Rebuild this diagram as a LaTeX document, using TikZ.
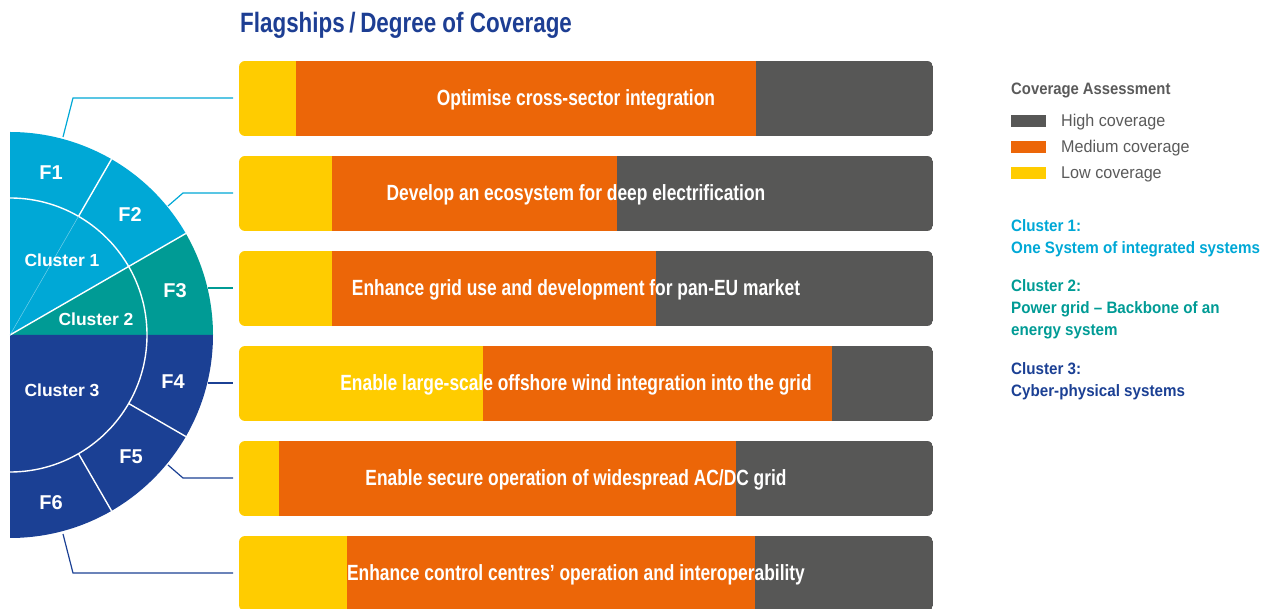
\documentclass[tikz,border=0pt]{standalone}
\usepackage{fontspec}
\setmainfont{Liberation Sans}
\newfontfamily\barfont[FakeStretch=0.79]{Liberation Sans}
\newfontfamily\titfont[FakeStretch=0.80]{Liberation Sans}
\newfontfamily\legbold[FakeStretch=0.90]{Liberation Sans}
\newfontfamily\clufont[FakeStretch=0.92]{Liberation Sans}
\newfontfamily\legreg[FakeStretch=0.95]{Liberation Sans}
\usetikzlibrary{calc}
\definecolor{cyanC}{HTML}{00A8D6}
\definecolor{tealC}{HTML}{009B95}
\definecolor{blueC}{HTML}{1B4094}
\definecolor{orangeC}{HTML}{EC6608}
\definecolor{yellowC}{HTML}{FFCC00}
\definecolor{grayC}{HTML}{575756}
\definecolor{txtgray}{HTML}{5A5A5A}
\definecolor{titleblue}{HTML}{1D3E93}
\tikzset{
  bartext/.style={anchor=base,inner sep=0pt,text=white,font=\barfont\bfseries\fontsize{22}{26}\selectfont},
  flabel/.style={inner sep=0pt,text=white,font=\bfseries\fontsize{20}{24}\selectfont},
  clabel/.style={inner sep=0pt,text=white,font=\bfseries\fontsize{17.5}{21}\selectfont},
  lead/.style={line width=1.2pt},
  sep/.style={white,line width=1.4pt},
  legtxt/.style={anchor=base west,inner sep=0pt,text=txtgray,font=\legreg\fontsize{17}{20}\selectfont},
  clutxt/.style={anchor=base west,inner sep=0pt,font=\clufont\bfseries\fontsize{16.5}{20}\selectfont},
}
\newcommand\flagbar[5]{%
  \begin{scope}
    \clip[rounded corners=6] (239,{547-95*#1}) rectangle (933,{472-95*#1});
    \fill[yellowC] (239,{547-95*#1}) rectangle (#2,{472-95*#1});
    \fill[orangeC] (#2,{547-95*#1}) rectangle (#3,{472-95*#1});
    \fill[grayC] (#3,{547-95*#1}) rectangle (933,{472-95*#1});
  \end{scope}
  \node[bartext] (#5) at (576,{502.5-95*#1}) {#4};
}
\begin{document}
\begin{tikzpicture}[x=1pt,y=1pt]
\useasboundingbox (0,0) rectangle (1264,608);
% title
\node[anchor=base west,inner sep=0pt,text=titleblue,font=\titfont\bfseries\fontsize{28}{32}\selectfont] (title) at (240,575.7) {Flagships\,/\,Degree of Coverage};

% semicircle
\coordinate (C) at (10,273);
\fill[cyanC] (C) -- ++(30:203) arc[start angle=30,end angle=90,radius=203] -- cycle;
\fill[tealC] (C) -- ++(0:203) arc[start angle=0,end angle=30,radius=203] -- cycle;
\fill[blueC] (C) -- ++(-90:203) arc[start angle=-90,end angle=0,radius=203] -- cycle;
\draw[sep] ($(C)+(-90:137)$) arc[start angle=-90,end angle=90,radius=137];
\draw[sep] ($(C)+(60:137)$) -- ($(C)+(60:203)$);
\draw[sep] (C) -- ($(C)+(30:203)$);
\draw[sep] ($(C)+(-30:137)$) -- ($(C)+(-30:203)$);
\draw[sep] ($(C)+(-60:137)$) -- ($(C)+(-60:203)$);
\draw[cyanC!55!white,line width=0.5pt] (C) -- ($(C)+(60:137)$);

\node[flabel] (F1) at (51,435) {F1};
\node[flabel] (F2) at (130,393) {F2};
\node[flabel] (F3) at (175,317) {F3};
\node[flabel] (F4) at (173,226) {F4};
\node[flabel] (F5) at (131,151) {F5};
\node[flabel] (F6) at (51,105) {F6};
\node[clabel] (cl1) at (62,348) {Cluster 1};
\node[clabel] (cl2) at (96,289) {Cluster 2};
\node[clabel] (cl3) at (62,218) {Cluster 3};

% bars
\flagbar{0}{296}{756}{Optimise cross-sector integration}{t1}
\flagbar{1}{332}{617}{Develop an ecosystem for deep electrification}{t2}
\flagbar{2}{332}{656}{Enhance grid use and development for pan-EU market}{t3}
\flagbar{3}{483}{832}{Enable large-scale offshore wind integration into the grid}{t4}
\flagbar{4}{279}{736}{Enable secure operation of widespread AC/DC grid}{t5}
\flagbar{5}{347}{755}{Enhance control centres’ operation and interoperability}{t6}

% leaders
\coordinate (l1a) at (63,471); \coordinate (l1b) at (73,510); \coordinate (b1) at (233,510);
\coordinate (l2a) at (168,402); \coordinate (l2b) at (183,415); \coordinate (b2) at (233,415);
\coordinate (l3a) at (208,320); \coordinate (b3) at (233,320);
\coordinate (l4a) at (208,225); \coordinate (b4) at (233,225);
\coordinate (l5a) at (168,143); \coordinate (l5b) at (183,130); \coordinate (b5) at (233,130);
\coordinate (l6a) at (63,74); \coordinate (l6b) at (73,35); \coordinate (b6) at (233,35);
\draw[lead,cyanC] (l1a) -- (l1b) -- (b1);
\draw[lead,cyanC] (l2a) -- (l2b) -- (b2);
\draw[lead,tealC] (l3a) -- (b3);
\draw[lead,blueC] (l4a) -- (b4);
\draw[lead,blueC] (l5a) -- (l5b) -- (b5);
\draw[lead,blueC] (l6a) -- (l6b) -- (b6);

% legend
\node[anchor=base west,inner sep=0pt,text=txtgray,font=\legbold\bfseries\fontsize{16.5}{20}\selectfont] (lh) at (1011,513) {Coverage Assessment};
\fill[grayC] (1011,481) rectangle (1046,493);
\fill[orangeC] (1011,455) rectangle (1046,467);
\fill[yellowC] (1011,429) rectangle (1046,441);
\node[legtxt] (lg1) at (1061,481) {High coverage};
\node[legtxt] (lg2) at (1061,455) {Medium coverage};
\node[legtxt] (lg3) at (1061,429) {Low coverage};
\node[clutxt,text=cyanC] (c1a) at (1011,376) {Cluster 1:};
\node[clutxt,text=cyanC] (c1b) at (1011,354.5) {One System of integrated systems};
\node[clutxt,text=tealC] (c2a) at (1011,316) {Cluster 2:};
\node[clutxt,text=tealC] (c2b) at (1011,294) {Power grid – Backbone of an};
\node[clutxt,text=tealC] (c2c) at (1011,272) {energy system};
\node[clutxt,text=blueC] (c3a) at (1011,233) {Cluster 3:};
\node[clutxt,text=blueC] (c3b) at (1011,211) {Cyber-physical systems};
\end{tikzpicture}
\end{document}
